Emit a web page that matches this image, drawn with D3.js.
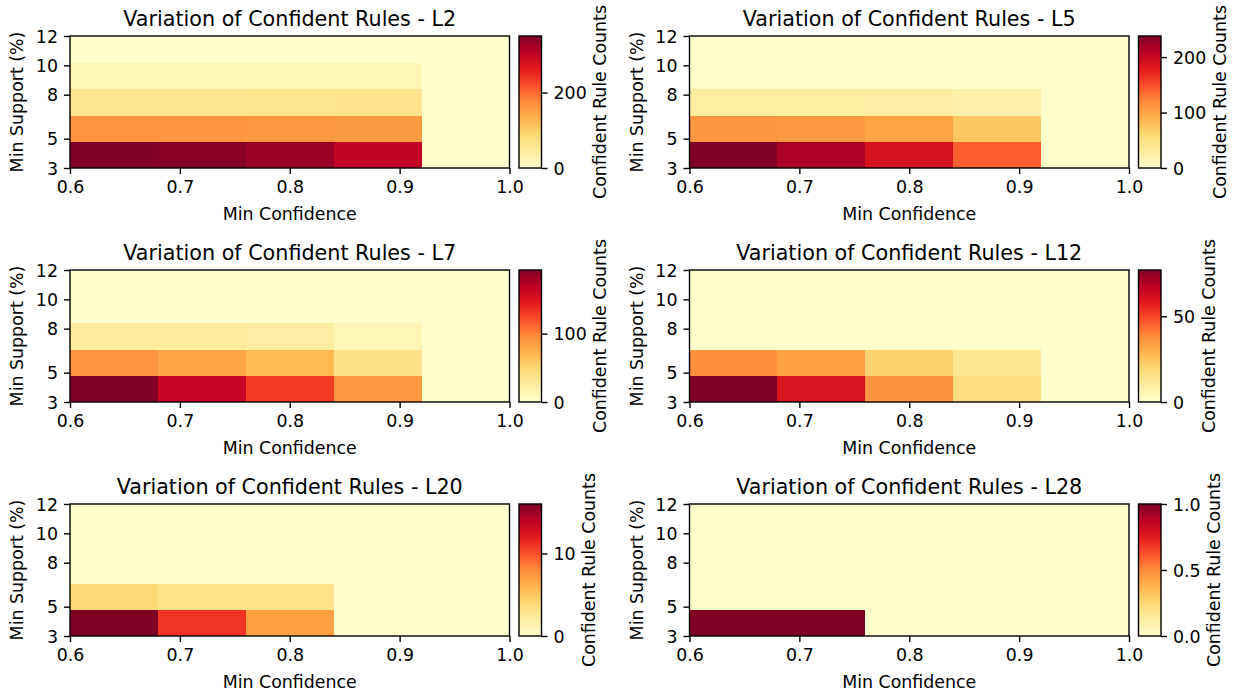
<!DOCTYPE html>
<html><head><meta charset="utf-8">
<script src="https://cdn.jsdelivr.net/npm/d3@7"></script>
<style>
body{margin:0;background:#fff;}
svg text{font-family:"DejaVu Sans",sans-serif;fill:#000;}
</style></head><body>
<svg id="c" width="1240" height="696"></svg>
<script>
// ---- data ----
const confidenceTicks = [0.6, 0.7, 0.8, 0.9, 1.0];
const supportTicks = [3, 5, 8, 10, 12];
const layerNames = ["L2", "L5", "L7", "L12", "L20", "L28"];
// rows: support 3 (bottom) -> 12 (top); columns: confidence 0.6 -> 1.0
const countsL2 = [
  [350, 345, 332, 301, 0],
  [165, 165, 163, 158, 0],
  [61, 61, 62, 64, 0],
  [24, 24, 24, 23, 0],
  [0, 0, 0, 0, 0]
];
const countsL5 = [
  [238, 216, 188, 141, 0],
  [112, 109, 101, 72, 0],
  [30, 30, 29, 24, 0],
  [2, 2, 2, 2, 0],
  [0, 0, 0, 0, 0]
];
const countsL7 = [
  [193, 163, 130, 90, 0],
  [92, 80, 68, 38, 0],
  [25, 25, 23, 13, 0],
  [0, 0, 0, 0, 0],
  [0, 0, 0, 0, 0]
];
const countsL12 = [
  [77, 60, 37, 17, 0],
  [38, 33, 21, 13, 0],
  [0, 0, 0, 0, 0],
  [0, 0, 0, 0, 0],
  [0, 0, 0, 0, 0]
];
const countsL20 = [
  [16, 11, 7, 0, 0],
  [4, 3, 3, 0, 0],
  [0, 0, 0, 0, 0],
  [0, 0, 0, 0, 0],
  [0, 0, 0, 0, 0]
];
const countsL28 = [
  [1, 1, 0, 0, 0],
  [0, 0, 0, 0, 0],
  [0, 0, 0, 0, 0],
  [0, 0, 0, 0, 0],
  [0, 0, 0, 0, 0]
];
const cbTicksL2 = [0, 200];
const cbTicksL5 = [0, 100, 200];
const cbTicksL7 = [0, 100];
const cbTicksL12 = [0, 50];
const cbTicksL20 = [0, 10];
const cbTicksL28 = [0, 0.5, 1.0];

const allCounts = [countsL2, countsL5, countsL7, countsL12, countsL20, countsL28];
const allCbTicks = [cbTicksL2, cbTicksL5, cbTicksL7, cbTicksL12, cbTicksL20, cbTicksL28];
const ylOrRd = ["#ffffcc","#ffeda0","#fed976","#feb24c","#fd8d3c","#fc4e2a","#e31a1c","#bd0026","#800026"];

// ---- layout ----
const svg = d3.select("#c");
const lefts = [70, 689.5], tops = [36, 270, 504];
const AW = 439.5, AH = 132;
const FS = 17.4, TFS = 20.7, LW = 1.4;
const defs = svg.append("defs");
const grad = defs.append("linearGradient").attr("id", "cbgrad")
  .attr("x1", 0).attr("y1", 1).attr("x2", 0).attr("y2", 0);
ylOrRd.forEach((c, k) => grad.append("stop").attr("offset", k / 8).attr("stop-color", c));

allCounts.forEach((counts, i) => {
  const left = lefts[i % 2], top = tops[Math.floor(i / 2)];
  const g = svg.append("g");
  const x = d3.scaleLinear().domain([confidenceTicks[0], confidenceTicks[confidenceTicks.length - 1]]).range([left, left + AW]);
  const y = d3.scaleLinear().domain([supportTicks[0], supportTicks[supportTicks.length - 1]]).range([top + AH, top]);
  const nCols = counts[0].length, nRows = counts.length;
  const xb = d3.scaleBand().domain(d3.range(nCols)).range(x.range());
  const yb = d3.scaleBand().domain(d3.range(nRows)).range(y.range());
  const vmax = d3.max(counts.flat());
  const color = d3.scaleLinear().domain(ylOrRd.map((c, k) => k / 8 * vmax)).range(ylOrRd).interpolate(d3.interpolateRgb).clamp(true);

  const cells = [];
  counts.forEach((row, r) => row.forEach((v, c) => cells.push({r, c, v})));
  g.selectAll("rect.cell").data(cells).join("rect").attr("class", "cell")
    .attr("x", d => xb(d.c)).attr("y", d => yb(d.r))
    .attr("width", xb.bandwidth() + 0.3).attr("height", yb.bandwidth() + 0.3)
    .attr("fill", d => color(d.v)).attr("shape-rendering", "crispEdges");

  // frame
  g.append("rect").attr("x", left).attr("y", top).attr("width", AW).attr("height", AH)
    .attr("fill", "none").attr("stroke", "#000").attr("stroke-width", LW);

  const gx = g.append("g").attr("transform", `translate(0,${top + AH})`)
    .call(d3.axisBottom(x).tickValues(confidenceTicks).tickFormat(d3.format(".1f")).tickSize(6).tickPadding(7));
  const gy = g.append("g").attr("transform", `translate(${left},0)`)
    .call(d3.axisLeft(y).tickValues(supportTicks).tickFormat(d3.format("d")).tickSize(6).tickPadding(6));
  [gx, gy].forEach(a => {
    a.select(".domain").remove();
    a.selectAll(".tick line").attr("stroke", "#000").attr("stroke-width", LW);
    a.selectAll(".tick text").attr("font-size", FS).attr("font-family", "DejaVu Sans").attr("fill", "#000");
  });
  gy.selectAll(".tick text").attr("dy", "0.36em");

  g.append("text").attr("x", left + AW / 2).attr("y", top - 10.4).attr("text-anchor", "middle")
    .attr("font-size", TFS).text("Variation of Confident Rules - " + layerNames[i]);
  g.append("text").attr("x", left + AW / 2).attr("y", top + AH + 52).attr("text-anchor", "middle")
    .attr("font-size", FS).text("Min Confidence");
  g.append("text").attr("transform", `translate(${left - 53},${top + AH / 2}) rotate(-90)`)
    .attr("text-anchor", "middle").attr("dy", "0.36em").attr("font-size", FS).text("Min Support (%)");

  // colorbar
  const cbL = left + AW + 9.5, cbW = 22.5;
  const cy = d3.scaleLinear().domain([0, vmax]).range([top + AH, top]);
  g.append("rect").attr("x", cbL).attr("y", top).attr("width", cbW).attr("height", AH)
    .attr("fill", "url(#cbgrad)");
  g.append("rect").attr("x", cbL).attr("y", top).attr("width", cbW).attr("height", AH)
    .attr("fill", "none").attr("stroke", "#000").attr("stroke-width", LW);
  const ticks = allCbTicks[i];
  const fmt = ticks.some(t => !Number.isInteger(t)) ? d3.format(".1f") : d3.format("d");
  const gc = g.append("g").attr("transform", `translate(${cbL + cbW},0)`)
    .call(d3.axisRight(cy).tickValues(ticks).tickFormat(fmt).tickSize(6).tickPadding(6));
  gc.select(".domain").remove();
  gc.selectAll(".tick line").attr("stroke", "#000").attr("stroke-width", LW);
  gc.selectAll(".tick text").attr("font-size", FS).attr("font-family", "DejaVu Sans").attr("fill", "#000").attr("dy", "0.36em");
  let wmax = 0;
  gc.selectAll(".tick text").each(function () { wmax = Math.max(wmax, this.getComputedTextLength()); });
  const lx = cbL + cbW + 12 + wmax + 13.5;
  g.append("text").attr("transform", `translate(${lx},${top + AH / 2}) rotate(-90)`)
    .attr("text-anchor", "middle").attr("dy", "0.36em").attr("font-size", FS).text("Confident Rule Counts");
});
</script>
</body></html>
